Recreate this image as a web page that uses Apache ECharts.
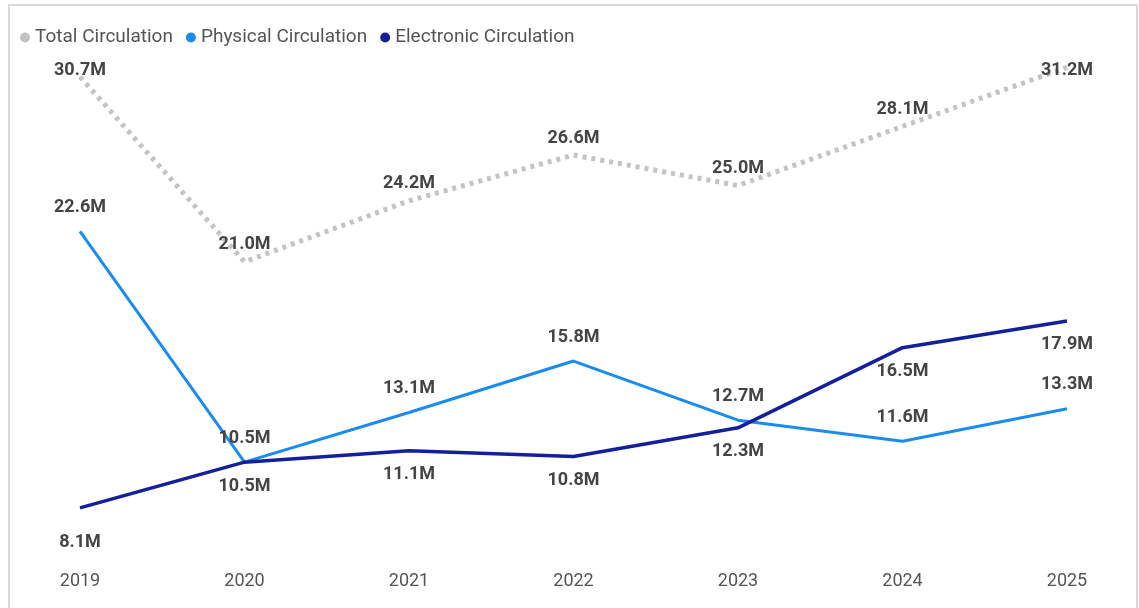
<!DOCTYPE html>
<html>
<head>
<meta charset="utf-8">
<title>Circulation by Year</title>
<script src="https://cdn.jsdelivr.net/npm/echarts@6/dist/echarts.min.js"></script>
<style>
  html, body { margin: 0; padding: 0; background: #ffffff; }
  #chart { width: 1139px; height: 608px; }
</style>
</head>
<body>
<div id="chart"></div>
<script>
// Circulation per year, in millions
const years = ['2019', '2020', '2021', '2022', '2023', '2024', '2025'];
const totalCirculation = [30.7, 21.0, 24.2, 26.6, 25.0, 28.1, 31.2];
const physicalCirculation = [22.6, 10.5, 13.1, 15.8, 12.7, 11.6, 13.3];
const electronicCirculation = [8.1, 10.5, 11.1, 10.8, 12.3, 16.5, 17.9];

const FONT = 'Roboto, "DejaVu Sans", sans-serif';
const fmtM = p => p.value.toFixed(1) + 'M';

const labelBase = {
  show: true,
  formatter: fmtM,
  fontFamily: FONT,
  fontSize: 18,
  fontWeight: 'bold',
  color: '#444444'
};

// Total labels sit above the line; the first and last are kept inside the plot top edge
const totalData = totalCirculation.map((v, i) => {
  if (i === 0) return { value: v, label: { position: 'inside', offset: [0, -6] } };
  if (i === totalCirculation.length - 1) return { value: v, label: { position: 'inside', offset: [0, 3] } };
  return v;
});

// Electronic labels sit below the line
const electronicData = electronicCirculation.map((v, i) =>
  i === 0 ? { value: v, label: { distance: 26 } } : v
);

const chart = echarts.init(document.getElementById('chart'), null, { renderer: 'canvas' });

// Points are invisible: labels only
const hiddenPoint = { showSymbol: true, symbol: 'circle', symbolSize: 0 };

chart.setOption({
  backgroundColor: '#ffffff',
  animation: false,
  legend: {
    data: ['Total Circulation', 'Physical Circulation', 'Electronic Circulation'],
    left: 15,
    top: 23,
    icon: 'circle',
    itemWidth: 10,
    itemHeight: 10,
    itemGap: 13,
    textStyle: { fontFamily: FONT, fontSize: 19, color: '#555555' }
  },
  grid: { left: 80, right: 72, top: 52, bottom: 60 },
  xAxis: {
    type: 'category',
    data: years,
    boundaryGap: false,
    axisLine: { show: false },
    axisTick: { show: false },
    axisLabel: { margin: 24, fontFamily: FONT, fontSize: 18, color: '#555555' },
    splitLine: { show: false }
  },
  yAxis: {
    type: 'value',
    min: 6,
    max: 32,
    interval: 2,
    show: false,
    splitLine: { show: false }
  },
  series: [
    Object.assign({
      name: 'Total Circulation',
      type: 'line',
      data: totalData,
      color: '#c2c2c2',
      itemStyle: { color: '#c2c2c2' },
      lineStyle: { color: '#c4c4c4', width: 5, type: [4, 5] },
      label: Object.assign({}, labelBase, { position: 'top', distance: 8 }),
      z: 1
    }, hiddenPoint),
    Object.assign({
      name: 'Physical Circulation',
      type: 'line',
      data: physicalCirculation,
      color: '#1a8cf0',
      itemStyle: { color: '#1a8cf0' },
      lineStyle: { color: '#1a8cf0', width: 3 },
      label: Object.assign({}, labelBase, { position: 'top', distance: 15 }),
      z: 2
    }, hiddenPoint),
    Object.assign({
      name: 'Electronic Circulation',
      type: 'line',
      data: electronicData,
      color: '#14209a',
      itemStyle: { color: '#14209a' },
      lineStyle: { color: '#14209a', width: 3.5 },
      label: Object.assign({}, labelBase, { position: 'bottom', distance: 15 }),
      z: 3
    }, hiddenPoint)
  ],
  graphic: [
    {
      type: 'rect',
      silent: true,
      shape: { x: 9, y: 5, width: 1128, height: 640 },
      style: { fill: 'none', stroke: '#dadada', lineWidth: 2 },
      z: -1
    }
  ]
});
</script>
</body>
</html>
